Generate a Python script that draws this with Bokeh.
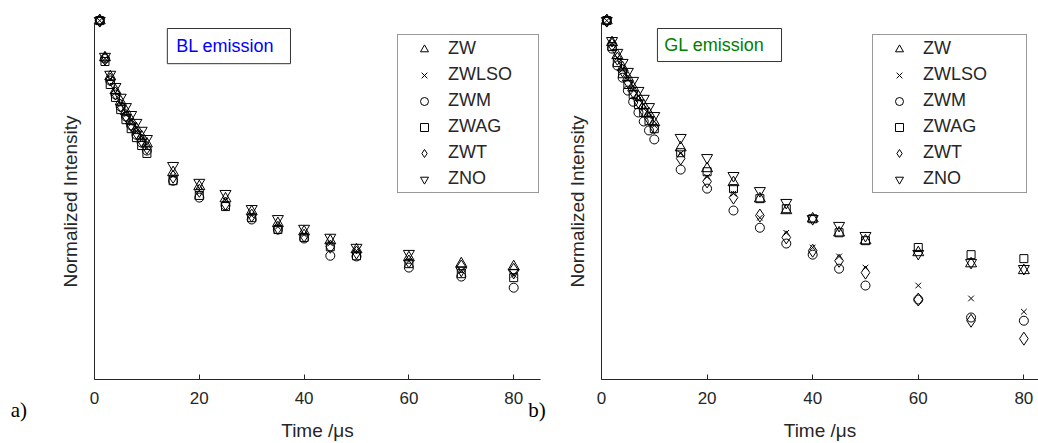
from bokeh.plotting import figure
from bokeh.layouts import row
from bokeh.models import (Range1d, FixedTicker, Legend, LegendItem, Label, BoxAnnotation,
                          LinearAxis)
from bokeh.embed import file_html
from bokeh.resources import INLINE

# ---------------- data ----------------
time_us = [1, 2, 3, 4, 5, 6, 7, 8, 9, 10, 15, 20, 25, 30, 35, 40, 45, 50, 60, 70, 80]
series_names = ["ZW", "ZWLSO", "ZWM", "ZWAG", "ZWT", "ZNO"]
x_ticks = [0, 20, 40, 60, 80]

# BL emission (panel a), normalized intensity
bl_zw    = [1.000, 0.897, 0.844, 0.805, 0.774, 0.747, 0.721, 0.699, 0.677, 0.657, 0.577, 0.538, 0.504, 0.468, 0.435, 0.412, 0.387, 0.362, 0.340, 0.323, 0.315]
bl_zwlso = [1.000, 0.894, 0.838, 0.799, 0.766, 0.738, 0.713, 0.691, 0.669, 0.646, 0.568, 0.526, 0.499, 0.457, 0.426, 0.404, 0.379, 0.359, 0.331, 0.304, 0.292]
bl_zwm   = [1.000, 0.894, 0.833, 0.794, 0.760, 0.733, 0.708, 0.682, 0.660, 0.638, 0.554, 0.507, 0.485, 0.446, 0.418, 0.393, 0.345, 0.343, 0.312, 0.287, 0.256]
bl_zwag  = [1.000, 0.886, 0.822, 0.786, 0.752, 0.724, 0.699, 0.674, 0.652, 0.630, 0.554, 0.513, 0.482, 0.451, 0.418, 0.396, 0.370, 0.345, 0.323, 0.295, 0.284]
bl_zwt   = [1.000, 0.894, 0.836, 0.797, 0.763, 0.735, 0.710, 0.688, 0.666, 0.646, 0.565, 0.526, 0.490, 0.457, 0.423, 0.401, 0.370, 0.354, 0.329, 0.315, 0.306]
bl_zno   = [1.000, 0.900, 0.850, 0.816, 0.786, 0.760, 0.738, 0.716, 0.694, 0.671, 0.596, 0.549, 0.518, 0.476, 0.448, 0.421, 0.396, 0.368, 0.351, 0.304, 0.298]

# GL emission (panel b), normalized intensity
gl_zw    = [1.000, 0.939, 0.903, 0.869, 0.841, 0.813, 0.788, 0.763, 0.741, 0.716, 0.646, 0.588, 0.549, 0.504, 0.471, 0.448, 0.409, 0.387, 0.354, 0.323, 0.304]
gl_zwlso = [1.000, 0.936, 0.897, 0.864, 0.836, 0.808, 0.780, 0.755, 0.733, 0.708, 0.630, 0.565, 0.518, 0.451, 0.409, 0.368, 0.343, 0.312, 0.262, 0.226, 0.189]
gl_zwm   = [1.000, 0.922, 0.875, 0.841, 0.805, 0.774, 0.744, 0.719, 0.694, 0.669, 0.585, 0.532, 0.471, 0.423, 0.379, 0.348, 0.309, 0.262, 0.223, 0.173, 0.164]
gl_zwag  = [1.000, 0.928, 0.883, 0.852, 0.822, 0.794, 0.766, 0.744, 0.721, 0.699, 0.632, 0.579, 0.532, 0.504, 0.476, 0.448, 0.409, 0.387, 0.368, 0.348, 0.337]
gl_zwt   = [1.000, 0.933, 0.894, 0.861, 0.830, 0.802, 0.774, 0.749, 0.727, 0.702, 0.616, 0.552, 0.507, 0.457, 0.396, 0.359, 0.331, 0.298, 0.223, 0.164, 0.114]
gl_zno   = [1.000, 0.944, 0.911, 0.883, 0.858, 0.833, 0.805, 0.783, 0.760, 0.735, 0.674, 0.618, 0.568, 0.526, 0.493, 0.448, 0.429, 0.401, 0.351, 0.326, 0.309]

bl_series = [bl_zw, bl_zwlso, bl_zwm, bl_zwag, bl_zwt, bl_zno]
gl_series = [gl_zw, gl_zwlso, gl_zwm, gl_zwag, gl_zwt, gl_zno]

# ---------------- style ----------------
markers = ["triangle", "x", "circle", "square", "diamond", "inverted_triangle"]
sizes = [11, 8, 9, 8, 13, 11]
FONT = "Liberation Sans"
SERIF = "Liberation Serif"
AXC = "#262626"
BOXC = "#333333"
H = 443


def make_panel(series, xr, x_axis_end, width, title, title_color,
               box_lr, box_tb, title_xy, legend_xy, legend_label_w, tag_labels):
    p = figure(width=width, height=H, output_backend="svg", toolbar_location=None,
               x_range=Range1d(*xr), y_range=Range1d(-0.178, 1.056),
               x_axis_location=None, y_axis_location=None,
               min_border=0, min_border_left=0, min_border_right=0,
               min_border_top=0, min_border_bottom=0)
    p.outline_line_color = None
    p.grid.visible = False
    p.background_fill_color = "white"
    p.border_fill_color = "white"

    rends = []
    for ys, m, s in zip(series, markers, sizes):
        r = p.scatter(time_us, ys, marker=m, size=s, fill_color=None,
                      line_color="black", line_width=1)
        rends.append(r)

    xa = LinearAxis(fixed_location=0, bounds=(0, x_axis_end))
    xa.ticker = FixedTicker(ticks=x_ticks)
    xa.major_tick_in = 5
    xa.major_tick_out = 0
    xa.minor_tick_line_color = None
    xa.axis_line_color = AXC
    xa.major_tick_line_color = AXC
    xa.major_label_text_font = FONT
    xa.major_label_text_font_size = "17px"
    xa.major_label_text_color = AXC
    xa.major_label_standoff = 12
    xa.axis_label = "Time /μs"
    xa.axis_label_text_font = FONT
    xa.axis_label_text_font_size = "19px"
    xa.axis_label_text_font_style = "normal"
    xa.axis_label_text_color = AXC
    xa.axis_label_standoff = 13
    p.add_layout(xa, "below")

    ya = LinearAxis(fixed_location=0, bounds=(0, 0.991))
    ya.ticker = FixedTicker(ticks=[])
    ya.minor_tick_line_color = None
    ya.axis_line_color = AXC
    ya.axis_label = "Normalized Intensity"
    ya.axis_label_text_font = FONT
    ya.axis_label_text_font_size = "19px"
    ya.axis_label_text_font_style = "normal"
    ya.axis_label_text_color = AXC
    ya.axis_label_standoff = 14
    p.add_layout(ya, "left")

    legend = Legend(items=[LegendItem(label=n, renderers=[r]) for n, r in zip(series_names, rends)],
                    location=legend_xy, orientation="vertical",
                    label_text_font=FONT, label_text_font_size="18px", label_text_color=AXC,
                    label_height=20, glyph_height=20, glyph_width=46, spacing=5,
                    label_width=legend_label_w,
                    padding=3, margin=0, label_standoff=1,
                    border_line_color=BOXC, border_line_width=1,
                    background_fill_color="white", background_fill_alpha=1)
    p.add_layout(legend, "center")

    box = BoxAnnotation(left=box_lr[0], right=box_lr[1], top=box_tb[0], bottom=box_tb[1],
                        fill_color="white", fill_alpha=1, line_color=BOXC, line_width=1,
                        line_alpha=1)
    p.add_layout(box)
    p.add_layout(Label(x=title_xy[0], y=title_xy[1], text=title, text_font=FONT,
                       text_font_size="18px", text_color=title_color, text_baseline="middle"))

    for tx, ty, tt in tag_labels:
        p.add_layout(Label(x=tx, y=ty, text=tt, text_font=SERIF, text_font_size="21px",
                           text_color="black", text_baseline="alphabetic"))
    return p


left = make_panel(bl_series, (-17.94, 88.17), 85.1, 556, "BL emission", "#0000FF",
                  (13.9, 37.4), (0.978, 0.880), (15.6, 0.929), (397, 250), 87,
                  [(-16.0, -0.084, "a)"), (82.8, -0.084, "b)")])
right = make_panel(gl_series, (-8.52, 82.77), 82.77, 482, "GL emission", "#008000",
                   (10.6, 34.1), (0.978, 0.886), (11.9, 0.932), (316, 250), 100, [])

layout = row(left, right)
open("out.html", "w").write(file_html(layout, INLINE))
